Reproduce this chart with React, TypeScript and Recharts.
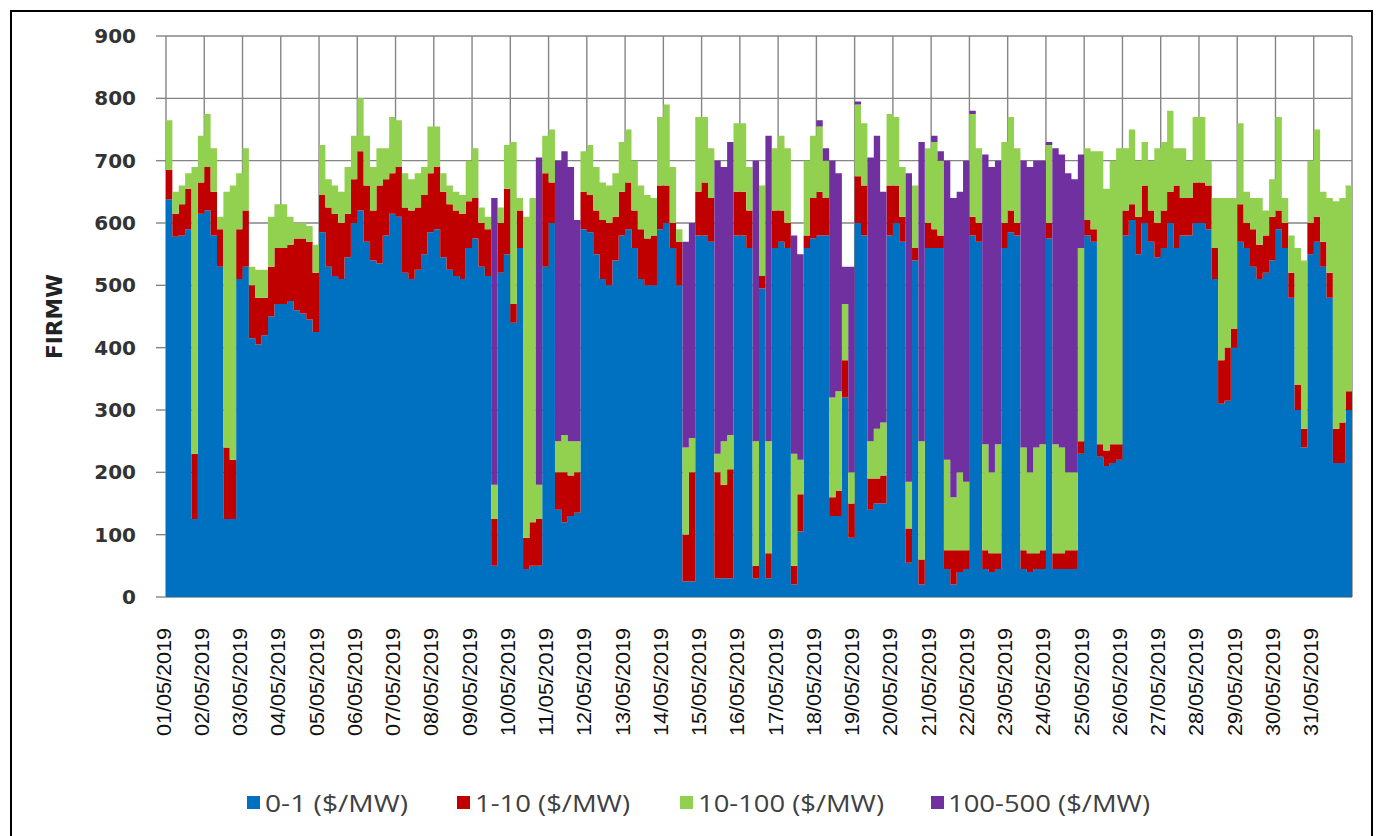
import React from 'react';
import { AreaChart, Area, XAxis, YAxis, CartesianGrid } from 'recharts';

// Day categories (x axis tick labels)
const dayLabels = [
  '01/05/2019', '02/05/2019', '03/05/2019', '04/05/2019', '05/05/2019', '06/05/2019', '07/05/2019',
  '08/05/2019', '09/05/2019', '10/05/2019', '11/05/2019', '12/05/2019', '13/05/2019', '14/05/2019',
  '15/05/2019', '16/05/2019', '17/05/2019', '18/05/2019', '19/05/2019', '20/05/2019', '21/05/2019',
  '22/05/2019', '23/05/2019', '24/05/2019', '25/05/2019', '26/05/2019', '27/05/2019', '28/05/2019',
  '29/05/2019', '30/05/2019', '31/05/2019',
];

const readingsPerDay = 6; // one reading every 4 hours

const yTicks = [0, 100, 200, 300, 400, 500, 600, 700, 800, 900];

// FIR MW in each price band, one row per day (6 readings)
const band0to1 = [
  638, 578, 580, 590, 125, 615,
  620, 580, 530, 125, 125, 510,
  530, 415, 405, 420, 450, 470,
  470, 475, 460, 455, 445, 425,
  585, 530, 515, 510, 545, 600,
  620, 570, 540, 535, 580, 615,
  610, 520, 510, 525, 550, 585,
  590, 545, 525, 515, 510, 560,
  575, 530, 515, 50, 520, 550,
  440, 560, 45, 50, 50, 530,
  600, 140, 120, 130, 135, 590,
  585, 550, 510, 500, 540, 580,
  590, 560, 510, 500, 500, 590,
  600, 560, 500, 25, 25, 580,
  580, 570, 30, 30, 30, 580,
  580, 560, 30, 495, 30, 560,
  570, 560, 20, 105, 560, 575,
  580, 580, 130, 130, 320, 95,
  600, 580, 140, 150, 150, 580,
  600, 570, 55, 540, 20, 560,
  560, 560, 45, 20, 40, 45,
  580, 570, 45, 40, 45, 560,
  585, 580, 45, 40, 45, 45,
  575, 45, 45, 45, 45, 230,
  580, 570, 225, 210, 215, 220,
  580, 605, 550, 600, 570, 545,
  560, 600, 560, 580, 580, 600,
  600, 590, 510, 310, 315, 400,
  570, 560, 530, 510, 520, 540,
  590, 560, 480, 300, 240, 550,
  570, 530, 480, 215, 215, 300,
];

const band1to10 = [
  47, 37, 50, 65, 105, 50,
  70, 70, 60, 115, 95, 80,
  90, 85, 75, 60, 80, 90,
  90, 90, 115, 120, 125, 95,
  60, 95, 100, 90, 70, 70,
  95, 90, 80, 125, 90, 65,
  80, 105, 110, 100, 95, 95,
  100, 105, 105, 105, 105, 75,
  65, 70, 75, 75, 80, 105,
  30, 60, 50, 70, 75, 150,
  65, 60, 80, 65, 65, 60,
  60, 70, 95, 100, 70, 70,
  75, 60, 80, 75, 80, 70,
  60, 40, 70, 75, 175, 70,
  85, 70, 170, 150, 175, 70,
  70, 60, 20, 20, 40, 60,
  50, 40, 30, 60, 20, 65,
  70, 60, 30, 40, 60, 55,
  75, 80, 50, 40, 45, 80,
  60, 40, 55, 20, 40, 40,
  30, 20, 30, 55, 35, 30,
  30, 30, 30, 30, 25, 40,
  35, 20, 30, 30, 25, 30,
  25, 25, 25, 30, 30, 20,
  25, 20, 20, 25, 30, 25,
  40, 25, 60, 60, 50, 55,
  60, 50, 100, 60, 60, 65,
  65, 70, 50, 70, 85, 30,
  60, 40, 60, 55, 60, 70,
  30, 40, 40, 40, 30, 50,
  40, 40, 40, 55, 65, 30,
];

const band10to100 = [
  80, 35, 30, 25, 460, 75,
  85, 70, 20, 410, 440, 90,
  100, 30, 45, 45, 80, 70,
  70, 45, 25, 25, 25, 45,
  80, 45, 45, 50, 75, 70,
  85, 80, 70, 60, 50, 90,
  75, 55, 50, 55, 45, 75,
  65, 30, 30, 30, 30, 65,
  80, 25, 20, 55, 25, 70,
  260, 20, 515, 520, 55, 60,
  85, 50, 60, 55, 50, 65,
  80, 70, 60, 60, 70, 80,
  85, 80, 70, 70, 60, 110,
  130, 90, 20, 140, 55, 120,
  105, 80, 30, 70, 55, 110,
  110, 70, 200, 145, 180, 100,
  120, 120, 180, 55, 120, 100,
  105, 60, 160, 160, 90, 50,
  115, 100, 60, 80, 85, 115,
  110, 80, 75, 100, 190, 120,
  140, 120, 145, 85, 125, 110,
  165, 120, 170, 130, 175, 130,
  150, 120, 165, 130, 170, 170,
  125, 175, 170, 125, 125, 310,
  115, 125, 470, 420, 455, 475,
  100, 120, 90, 70, 80, 120,
  110, 130, 60, 80, 60, 105,
  105, 40, 80, 260, 240, 210,
  130, 50, 50, 75, 40, 60,
  150, 40, 60, 220, 270, 100,
  140, 80, 120, 365, 360, 330,
];

const band100to500 = [
  0, 0, 0, 0, 0, 0,
  0, 0, 0, 0, 0, 0,
  0, 0, 0, 0, 0, 0,
  0, 0, 0, 0, 0, 0,
  0, 0, 0, 0, 0, 0,
  0, 0, 0, 0, 0, 0,
  0, 0, 0, 0, 0, 0,
  0, 0, 0, 0, 0, 0,
  0, 0, 0, 460, 0, 0,
  0, 0, 0, 0, 525, 0,
  0, 450, 455, 440, 355, 0,
  0, 0, 0, 0, 0, 0,
  0, 0, 0, 0, 0, 0,
  0, 0, 0, 330, 345, 0,
  0, 0, 470, 440, 470, 0,
  0, 0, 450, 0, 490, 0,
  0, 0, 350, 330, 0, 0,
  10, 20, 380, 350, 60, 330,
  5, 0, 455, 470, 370, 0,
  0, 0, 495, 0, 480, 0,
  10, 15, 480, 480, 450, 515,
  5, 0, 465, 490, 455, 0,
  0, 0, 460, 490, 460, 455,
  5, 475, 470, 480, 470, 150,
  0, 0, 0, 0, 0, 0,
  0, 0, 0, 0, 0, 0,
  0, 0, 0, 0, 0, 0,
  0, 0, 0, 0, 0, 0,
  0, 0, 0, 0, 0, 0,
  0, 0, 0, 0, 0, 0,
  0, 0, 0, 0, 0, 0,
];

const seriesNames = ['0-1 ($/MW)', '1-10 ($/MW)', '10-100 ($/MW)', '100-500 ($/MW)'];
const seriesColors = ['#0070C0', '#C00000', '#92D050', '#7030A0'];

const data = band0to1.map((v, i) => ({
  t: i / readingsPerDay,
  b1: v,
  b2: band1to10[i],
  b3: band10to100[i],
  b4: band100to500[i],
}));
// close the last step at the end of the month
data.push({ ...data[data.length - 1], t: dayLabels.length });

const dayTicks = dayLabels.map((_, i) => i);

const XTick = (props: any) => {
  const { x, y, payload } = props;
  return (
    <text
      transform={`translate(${x - 3}, ${y}) rotate(-90)`}
      textAnchor="end"
      dominantBaseline="central"
      fontFamily="'Liberation Sans', Arial, sans-serif"
      fontSize={21}
      fill="#111"
      textLength={108}
      lengthAdjust="spacingAndGlyphs"
    >
      {dayLabels[payload.value]}
    </text>
  );
};

const YTick = (props: any) => {
  const { x, y, payload } = props;
  return (
    <text
      x={x}
      y={y}
      textAnchor="end"
      dominantBaseline="central"
      fontFamily="'DejaVu Sans', Verdana, sans-serif"
      fontWeight="bold"
      fontSize={20}
      fill="#333"
    >
      {payload.value}
    </text>
  );
};

const YLabel = (props: any) => {
  const vb = props.viewBox || { x: 0, y: 0, width: 0, height: 0 };
  const cx = vb.x + 43;
  const cy = vb.y + vb.height / 2;
  return (
    <text
      transform={`translate(${cx}, ${cy}) rotate(-90)`}
      textAnchor="middle"
      dominantBaseline="central"
      fontFamily="'DejaVu Sans', Verdana, sans-serif"
      fontWeight="bold"
      fontSize={21}
      fill="#222"
      textLength={85}
      lengthAdjust="spacingAndGlyphs"
    >
      FIRMW
    </text>
  );
};

const legendItems = [
  { sq: 247, tx: 265, w: 143 },
  { sq: 457, tx: 475, w: 155 },
  { sq: 680, tx: 698, w: 186 },
  { sq: 931, tx: 948, w: 202 },
];

export default function App() {
  return (
    <div
      style={{
        position: 'absolute',
        left: 10,
        top: 10,
        width: 1363,
        height: 840,
        border: '2px solid #000',
        boxSizing: 'border-box',
        background: '#fff',
      }}
    >
      <div style={{ position: 'absolute', left: 0, top: 0 }}>
        <AreaChart
          width={1358}
          height={760}
          data={data}
          margin={{ top: 24, right: 18, left: 0, bottom: 5 }}
        >
          <CartesianGrid stroke="#858585" strokeWidth={1.4} />
          <XAxis
            dataKey="t"
            type="number"
            domain={[0, dayLabels.length]}
            ticks={dayTicks}
            interval={0}
            height={170}
            tick={<XTick />}
            tickLine={false}
            axisLine={false}
            tickSize={0}
            tickMargin={31}
            allowDataOverflow
          />
          <YAxis
            width={154}
            domain={[0, 900]}
            ticks={yTicks}
            interval={0}
            tick={<YTick />}
            tickSize={10}
            tickMargin={20}
            tickLine={{ stroke: '#858585', strokeWidth: 1.4 }}
            axisLine={false}
            label={{ content: <YLabel /> }}
          />
          {['b1', 'b2', 'b3', 'b4'].map((k, i) => (
            <Area
              key={k}
              dataKey={k}
              name={seriesNames[i]}
              stackId="fir"
              type="stepAfter"
              stroke="none"
              fill={seriesColors[i]}
              fillOpacity={1}
              isAnimationActive={false}
              dot={false}
              activeDot={false}
            />
          ))}
        </AreaChart>
      </div>
      <svg
        width={1358}
        height={50}
        style={{ position: 'absolute', left: 0, top: 767 }}
      >
        {legendItems.map((it, i) => (
          <g key={i}>
            <rect x={it.sq - 12} y={17} width={13} height={13} fill={seriesColors[i]} />
            <text
              x={it.tx - 12}
              y={24}
              dominantBaseline="central"
              fontFamily="'Open Sans', 'Noto Sans', sans-serif"
              fontSize={23}
              fill="#404040"
              textLength={it.w}
              lengthAdjust="spacingAndGlyphs"
            >
              {seriesNames[i]}
            </text>
          </g>
        ))}
      </svg>
    </div>
  );
}
